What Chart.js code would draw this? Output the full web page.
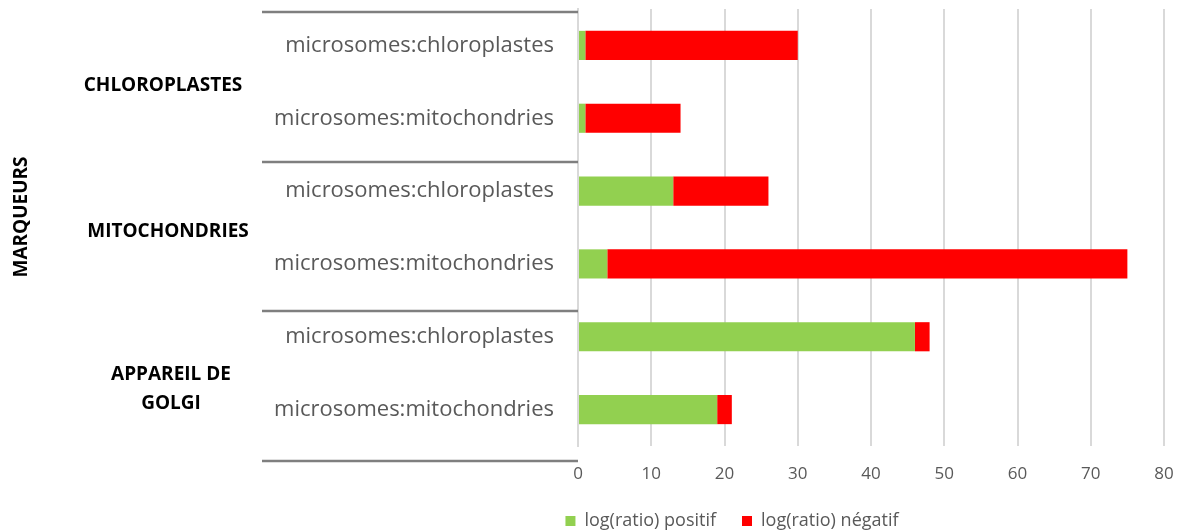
<!DOCTYPE html>
<html><head><meta charset="utf-8">
<script src="https://cdn.jsdelivr.net/npm/chart.js@4/dist/chart.umd.min.js"></script>
<style>html,body{margin:0;padding:0;background:#fff}#wrap{width:1185px;height:531px;position:relative}</style>
</head><body><div id="wrap"><canvas id="c" width="1185" height="531"></canvas></div>
<script>
const categories = ["microsomes:chloroplastes","microsomes:mitochondries","microsomes:chloroplastes","microsomes:mitochondries","microsomes:chloroplastes","microsomes:mitochondries"];
const groups = [["CHLOROPLASTES"],["MITOCHONDRIES"],["APPAREIL DE","GOLGI"]];
const axisTitle = "MARQUEURS";
const positif = [1, 1, 13, 4, 46, 19];
const negatif = [29, 13, 13, 71, 2, 2];
const seriesNames = ["log(ratio) positif","log(ratio) négatif"];
const FONT = "'Open Sans', sans-serif";

const groupPlugin = {
  id: 'groups',
  afterLayout(chart){
    const lg = chart.legend;
    if (lg) { lg.left += 150; lg.right += 150; }
  },
  afterDraw(chart){
    const ctx = chart.ctx, y = chart.scales.y, area = chart.chartArea;
    const top = area.top, bottom = area.bottom;
    const gh = (bottom - top + 12) / 3;
    ctx.save();
    ctx.strokeStyle = '#7f7f7f'; ctx.lineWidth = 2.5;
    for (let k = 0; k <= 3; k++) {
      const yy = Math.round(top + 3 + k*gh);
      ctx.beginPath(); ctx.moveTo(262, yy); ctx.lineTo(area.left, yy); ctx.stroke();
    }
    ctx.fillStyle = '#000'; ctx.font = "bold 19px " + FONT;
    ctx.textAlign = 'center'; ctx.textBaseline = 'middle';
    const cx = [163, 168, 171];
    groups.forEach((g, i) => {
      const c = (y.getPixelForValue(2*i) + y.getPixelForValue(2*i+1)) / 2;
      const lh = 29;
      const base = g.length === 1 ? c + 4 : c + 1;
      g.forEach((t, j) => ctx.fillText(t, cx[i], base + j*lh));
    });
    ctx.translate(22, 217); ctx.rotate(-Math.PI/2);
    ctx.fillText(axisTitle, 0, 0);
    ctx.restore();
  }
};

new Chart(document.getElementById('c'), {
  type: 'bar',
  data: {
    labels: categories,
    datasets: [
      {label: seriesNames[0], data: positif, backgroundColor: '#92d050'},
      {label: seriesNames[1], data: negatif, backgroundColor: '#ff0000'}
    ]
  },
  options: {
    indexAxis: 'y', responsive: false, animation: false,
    layout: {padding: {top: 9, right: 21, left: 0, bottom: 0}},
    datasets: {bar: {categoryPercentage: 1, barPercentage: 0.4}},
    scales: {
      x: {
        stacked: true, min: 0, max: 80,
        ticks: {stepSize: 10, color: '#595959', font: {family: FONT, size: 17}, padding: 18},
        grid: {color: '#d9d9d9', lineWidth: 2, drawTicks: false},
        border: {display: false},
        afterFit(s){ s.height = 40; s.paddingRight = 0; s.paddingLeft = 0; }
      },
      y: {
        stacked: true,
        ticks: {color: '#595959', font: {family: FONT, size: 22}, padding: 24},
        grid: {display: false, drawTicks: false},
        border: {display: true, color: '#d9d9d9', width: 2},
        afterFit(s){ s.width = 578; s.paddingTop = 0; s.paddingBottom = 0; }
      }
    },
    plugins: {
      legend: {position: 'bottom', maxHeight: 45, labels: {boxWidth: 10, boxHeight: 10, color: '#595959', font: {family: FONT, size: 18}, padding: 26}},
      tooltip: {enabled: false}
    }
  },
  plugins: [groupPlugin]
});
</script></body></html>
